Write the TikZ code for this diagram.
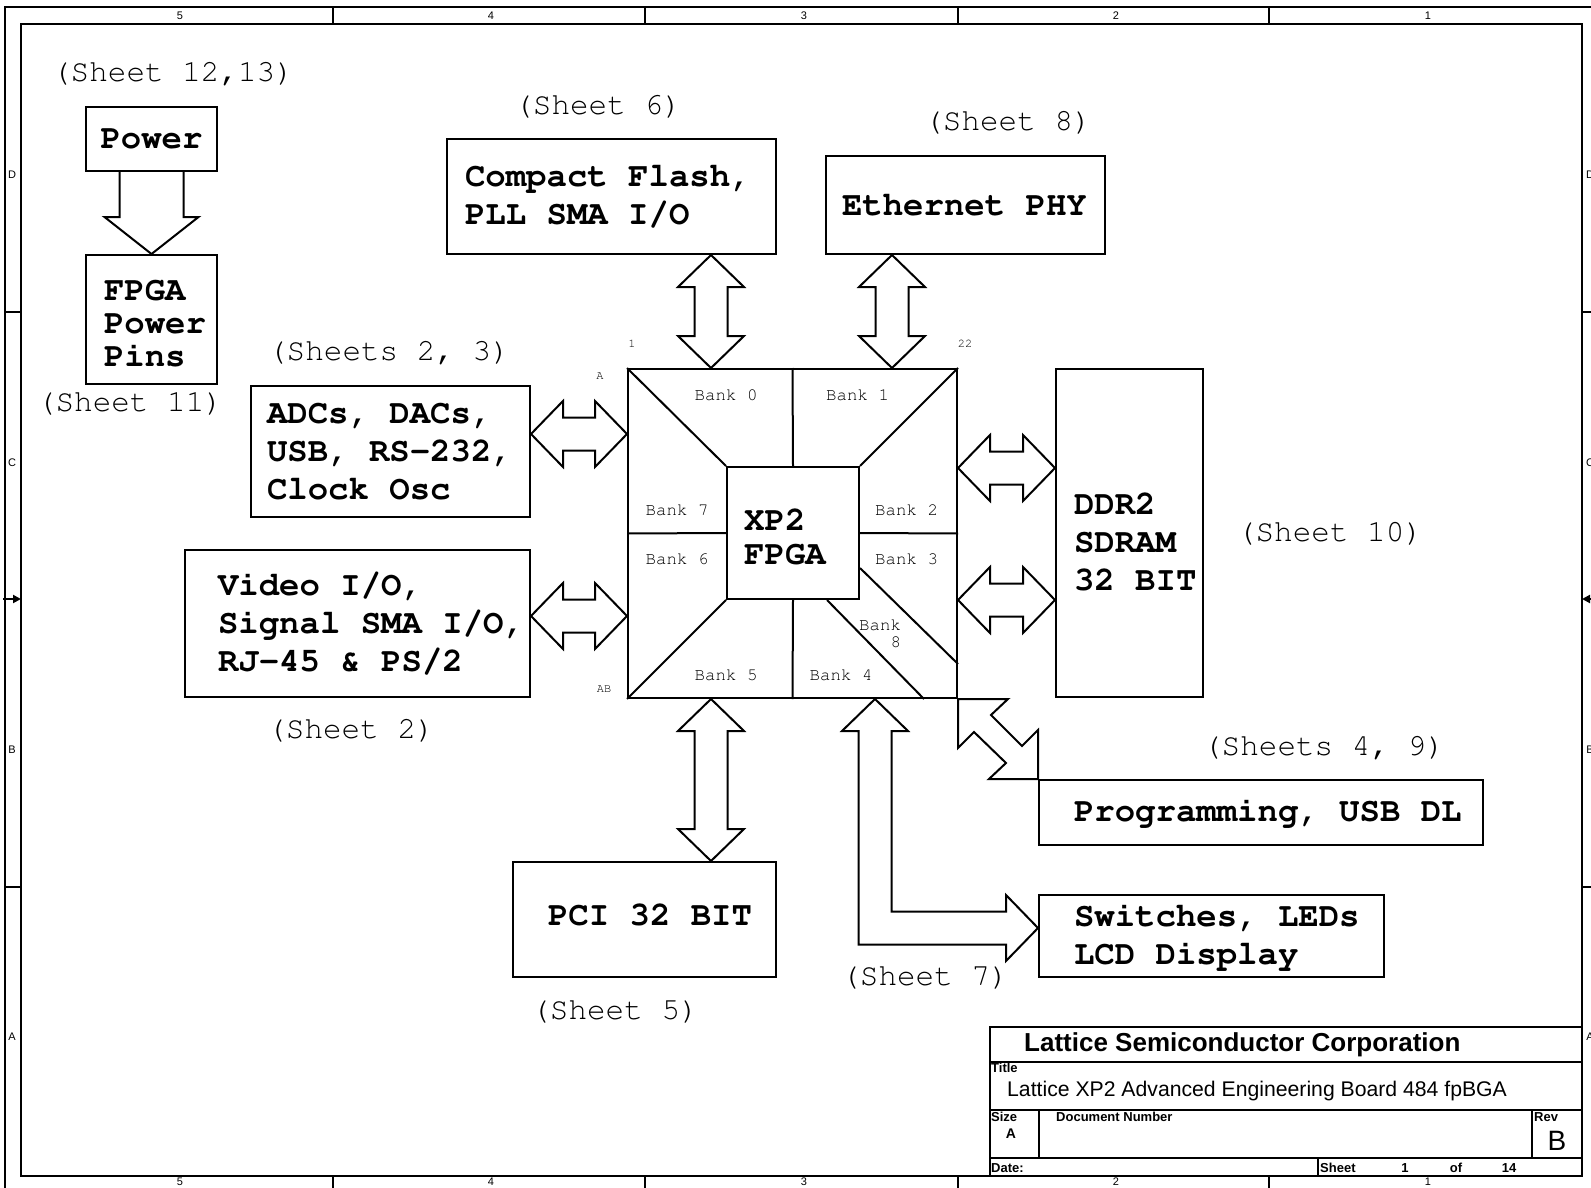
\documentclass[tikz,border=0pt]{standalone}
\usepackage[T1,TU]{fontenc}
\usepackage{fontspec}
\setmainfont{Liberation Sans}
\usetikzlibrary{calc,arrows.meta}

% courier for the block diagram texts, spaces as wide as a letter
\newcommand\cour{\fontencoding{T1}\fontfamily{pcr}\selectfont}
\newcommand\monosp{\spaceskip=\fontcharwd\font`M\relax\xspaceskip=\spaceskip
  \hyphenpenalty=10000\exhyphenpenalty=10000\relax}
\newcommand\blkfont{\cour\bfseries\fontsize{34}{38}\selectfont\monosp}

% fat two-way buses, #1 and #2 are the two tips
\newcommand\vbus[2]{%
  \draw[bus] #1 -- ++(33,32) -- ++(-16.5,0) -- ($#2+(16.5,-32)$) -- ++(16.5,0) -- #2
    -- ++(-33,-32) -- ++(16.5,0) -- ($#1+(-16.5,32)$) -- ++(-16.5,0) -- cycle;}
\newcommand\hbus[2]{%
  \draw[bus] #1 -- ++(32,-33) -- ++(0,16.5) -- ($#2+(-32,-16.5)$) -- ++(0,-16.5) -- #2
    -- ++(-32,33) -- ++(0,-16.5) -- ($#1+(32,16.5)$) -- ++(0,16.5) -- cycle;}

\tikzset{
  frm/.style={line width=2pt},
  blk/.style={draw, line width=2pt, font=\blkfont, align=flush left, inner ysep=0pt},
  chip/.style={draw, line width=2pt, inner sep=0pt},
  bus/.style={draw, line width=2pt, line join=miter},
  sheet/.style={font=\cour\fontsize{31}{32}\selectfont\monosp},
  bank/.style={font=\cour\fontsize{17.5}{17}\selectfont\monosp},
  pin/.style={font=\cour\fontsize{12}{12}\selectfont},
  zone/.style={font=\fontsize{11}{11}\selectfont},
  tbsmall/.style={font=\bfseries\fontsize{13}{13}\selectfont, anchor=base west, inner sep=0pt},
}

\begin{document}
\begin{tikzpicture}[x=1pt, y=-1pt]
\useasboundingbox (0,0) rectangle (1591,1188);
\fill[white] (0,0) rectangle (1591,1188);

% sheet frame with zones
\draw[frm] (5,1188) -- (5,7) -- (1591,7);
\draw[frm] (21,24) rectangle (1582,1176);
\foreach \x in {333,645,958,1269} {
  \draw[frm] (\x,7) -- (\x,24);
  \draw[frm] (\x,1176) -- (\x,1188);
}
\foreach \y in {312,887} {
  \draw[frm] (5,\y) -- (21,\y);
  \draw[frm] (1582,\y) -- (1591,\y);
}
\draw[frm, -{Triangle[length=8pt,width=8pt]}] (3,599) -- (21,599);
\draw[frm, -{Triangle[length=8pt,width=8pt]}] (1591,599) -- (1582,599);
\foreach \x/\n in {180/5,491/4,804/3,1116/2,1428/1} {
  \node[zone] (top-\n) at (\x,16) {\n};
  \node[zone] (bot-\n) at (\x,1182) {\n};
}
\foreach \y/\r in {175/D,463/C,750/B,1037/A} {
  \node[zone] (left-\r) at (12,\y) {\r};
  \node[zone] (right-\r) at (1590,\y) {\r};
}

% blocks
\node[blk, align=center, minimum width=131pt, minimum height=64pt] (power) at (151.5,139) {Power};
\node[blk, font=\blkfont\fontsize{34}{33}\selectfont, text width=95pt, inner xsep=18pt, minimum height=129pt] (pins) at (151.5,319.5) {\rule{0pt}{28pt}FPGA\\Power\\Pins};
\node[blk, text width=293pt, inner xsep=18pt, minimum height=115pt] (cf) at (611.5,196.5) {Compact~Flash,\\PLL~SMA~I/O};
\node[blk, text width=247pt, inner xsep=16pt, minimum height=98pt] (eth) at (965.5,205) {Ethernet~PHY};
\node[blk, text width=247pt, inner xsep=16pt, minimum height=131pt] (adc) at (390.5,451.5) {ADCs,~DACs,\\USB,~RS-232,\\Clock~Osc};
\node[blk, text width=279pt, inner xsep=33pt, minimum height=147pt] (video) at (357.5,623.5) {Video~I/O,\\Signal~SMA~I/O,\\RJ-45~\&~PS/2};
\node[blk, text width=111pt, inner xsep=18pt, minimum height=328pt] (ddr) at (1129.5,533) {\rule{0pt}{40pt}DDR2\\SDRAM\\32~BIT};
\node[blk, text width=374pt, inner xsep=35pt, minimum height=65pt] (prog) at (1261,812.5) {Programming,~USB~DL};
\node[blk, text width=193pt, inner xsep=35pt, minimum height=115pt] (pci) at (644.5,919.5) {PCI~32~BIT\rule[-10pt]{0pt}{0pt}};
\node[blk, text width=275pt, inner xsep=35pt, minimum height=82pt] (sw) at (1211.5,936) {Switches,~LEDs\\LCD~Display};

% sheet references
\node[sheet] (s-power) at (173,73) {(Sheet 12,13)};
\node[sheet] (s-pins) at (130,403) {(Sheet 11)};
\node[sheet] (s-cf) at (598,106) {(Sheet 6)};
\node[sheet] (s-eth) at (1008,122) {(Sheet 8)};
\node[sheet] (s-adc) at (389,352) {(Sheets 2, 3)};
\node[sheet] (s-video) at (351,730) {(Sheet 2)};
\node[sheet] (s-ddr) at (1330,533) {(Sheet 10)};
\node[sheet] (s-prog) at (1324,747) {(Sheets 4, 9)};
\node[sheet] (s-pci) at (615,1011) {(Sheet 5)};
\node[sheet] (s-sw) at (925,977) {(Sheet 7)};

% the FPGA with its banks
\node[chip, minimum size=329pt] (fpga) at (792.5,533.5) {};
\node[chip, minimum size=132pt] (core) at (793,533) {};
\draw[line width=2pt] (fpga.north west) -- (core.north west)
  (fpga.north east) -- (core.north east)
  (fpga.south west) -- (core.south west)
  (fpga.north) -- (core.north) (core.south) -- (fpga.south)
  (fpga.west) -- (core.west) (core.east) -- (fpga.east)
  ($(core.south east)+(0,-32)$) -- ($(fpga.south east)+(0,-35)$)
  ($(core.south east)+(-33,0)$) -- ($(fpga.south east)+(-34,0)$);
\node[anchor=north west, inner sep=0pt, align=left, font=\blkfont\fontsize{34}{34}\selectfont] (xp2) at (744,509) {XP2\\FPGA};
\foreach \n/\x/\y in {0/726/400, 1/857.5/400, 7/677/515, 2/906.5/515, 6/677/564, 3/906.5/564, 5/726/680, 4/841/680}
  \node[bank, anchor=base] (bank\n) at (\x,\y) {Bank \n};
\node[bank, anchor=north west, inner sep=0pt, align=left] (bank8) at (859,619) {Bank\\\hphantom{Ban}8};
\node[pin] (pin-1) at (632,344) {1};
\node[pin] (pin-22) at (965,344) {22};
\node[pin] (row-a) at (600,376) {A};
\node[pin] (row-ab) at (604,689) {AB};

% buses
\draw[bus] ($(power.south)+(-32,0)$) -- ($(pins.north)+(-32,-37)$) -- ++(-15,0) -- (pins.north)
  -- ++(47,-37) -- ++(-15,0) -- ($(power.south)+(32,0)$);
\vbus{(711,0 |- cf.south)}{(711,0 |- fpga.north)}
\vbus{(892,0 |- eth.south)}{(892,0 |- fpga.north)}
\vbus{(711,0 |- fpga.south)}{(711,0 |- pci.north)}
\hbus{(adc.east |- 0,434)}{(fpga.west |- 0,434)}
\hbus{(video.east |- 0,616)}{(fpga.west |- 0,616)}
\hbus{(fpga.east |- 0,468)}{(ddr.west |- 0,468)}
\hbus{(fpga.east |- 0,600)}{(ddr.west |- 0,600)}
\draw[bus] (fpga.south east) -- ++(50,0) -- ++(-17,16) -- ($(prog.north west)+(-16,-33)$)
  -- ++(16,-16) -- (prog.north west) -- ++(-49,0) -- ++(17,-16)
  -- ($(fpga.south east)+(16,33)$) -- ++(-16,16) -- cycle;
\coordinate (swT) at (875,0 |- fpga.south);
\coordinate (swR) at (sw.west |- 0,928);
\draw[bus] (swT) -- ++(33,32) -- ++(-16.5,0) -- ($(swT |- swR)+(16.5,-16.5)$)
  -- ($(swR)+(-32,-16.5)$) -- ++(0,-16.5) -- (swR) -- ++(-32,33) -- ++(0,-16.5)
  -- ($(swT |- swR)+(-16.5,16.5)$) -- ($(swT)+(-16.5,32)$) -- ++(-16.5,0) -- cycle;

% title block
\draw[frm] (990,1176) -- (990,1027) -- (1582,1027);
\draw[frm] (990,1062) -- (1582,1062) (990,1110) -- (1582,1110) (990,1158) -- (1582,1158)
  (1039,1110) -- (1039,1158) (1532,1110) -- (1532,1158) (1318,1158) -- (1318,1176);
\node[font=\bfseries\fontsize{26}{26}\selectfont, anchor=base west, inner sep=0pt] (tb-corp) at (1024,1051) {Lattice Semiconductor Corporation};
\node[tbsmall] (tb-title) at (991,1072) {Title};
\node[font=\fontsize{21.2}{21}\selectfont, anchor=base west, inner sep=0pt] (tb-name) at (1007,1096) {Lattice XP2 Advanced Engineering Board 484 fpBGA};
\node[tbsmall] (tb-size) at (991,1121) {Size};
\node[font=\bfseries\fontsize{14}{14}\selectfont, anchor=base, inner sep=0pt] (tb-a) at (1011,1138) {A};
\node[tbsmall] (tb-doc) at (1056,1121) {Document Number};
\node[tbsmall] (tb-rev) at (1534,1121) {Rev};
\node[font=\fontsize{28}{28}\selectfont, anchor=base, inner sep=0pt] (tb-b) at (1557,1150) {B};
\node[tbsmall] (tb-date) at (991,1172) {Date:};
\node[tbsmall] (tb-sheet) at (1320,1172) {Sheet};
\node[tbsmall, anchor=base] (tb-n) at (1405,1172) {1};
\node[tbsmall, anchor=base] (tb-of) at (1456,1172) {of};
\node[tbsmall, anchor=base] (tb-m) at (1509,1172) {14};
\end{tikzpicture}
\end{document}
